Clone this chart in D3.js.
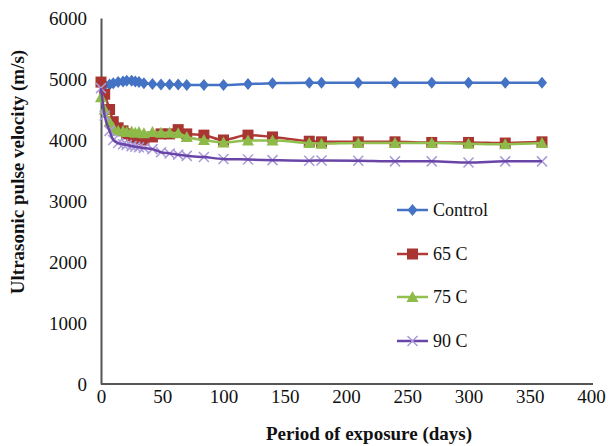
<!DOCTYPE html>
<html><head><meta charset="utf-8">
<script src="https://cdn.jsdelivr.net/npm/d3@7"></script>
<style>html,body{margin:0;padding:0;background:#fff;} svg text{font-family:"Liberation Serif","DejaVu Serif","Times New Roman",serif;}</style>
</head><body><svg id="c" width="608" height="446"></svg>
<script>
const days = [0,3,7,10,14,18,21,25,28,31,35,42,49,56,63,70,84,100,120,140,170,180,210,240,270,300,330,360];
const control = [4950,4900,4910,4930,4950,4960,4970,4970,4960,4950,4930,4920,4910,4910,4910,4900,4900,4900,4920,4930,4940,4940,4940,4940,4940,4940,4940,4940];
const c65 = [4950,4750,4500,4300,4200,4150,4100,4070,4040,4020,4000,4050,4100,4100,4170,4100,4080,4000,4080,4050,3980,3970,3970,3970,3960,3960,3950,3970];
const c75 = [4700,4500,4300,4200,4150,4150,4130,4140,4120,4130,4110,4130,4120,4120,4110,4050,4000,3960,3990,3990,3950,3940,3950,3950,3950,3940,3930,3950];
const c90 = [4850,4400,4150,4000,3950,3930,3920,3900,3890,3880,3870,3850,3800,3780,3760,3740,3720,3690,3680,3670,3660,3665,3660,3650,3650,3630,3650,3650];
const seriesNames = ["Control","65 C","75 C","90 C"];
const yTicks = [0,1000,2000,3000,4000,5000,6000];
const xTicks = [0,50,100,150,200,250,300,350,400];

const series = [
  {name:seriesNames[0], vals:control, line:"#4472C4", mark:"#4472C4", sym:"diamond"},
  {name:seriesNames[1], vals:c65, line:"#B03A36", mark:"#A83532", sym:"square"},
  {name:seriesNames[2], vals:c75, line:"#92C050", mark:"#8DBA48", sym:"triangle"},
  {name:seriesNames[3], vals:c90, line:"#6A45A8", mark:"#A99BDB", sym:"cross"}
];

const svg = d3.select("#c");
const x = d3.scaleLinear().domain([0,400]).range([101,591]);
const y = d3.scaleLinear().domain([0,6000]).range([384,18]);
const font = "\"Liberation Serif\",\"DejaVu Serif\",serif";

// axes
const yAxis = svg.append("g").attr("transform","translate(101,0)")
  .call(d3.axisLeft(y).tickValues(yTicks).tickSize(0).tickPadding(14).tickFormat(d3.format("d")));
yAxis.attr("font-family",null).attr("font-size",null);
yAxis.select(".domain").attr("stroke","#555").attr("stroke-width",2);
yAxis.selectAll("text").style("font-family",font).style("font-size","19px").attr("fill","#111");

const xAxis = svg.append("g").attr("transform","translate(0,384)")
  .call(d3.axisBottom(x).tickValues(xTicks).tickSize(0).tickPadding(6).tickFormat(d3.format("d")));
xAxis.attr("font-family",null).attr("font-size",null);
xAxis.select(".domain").attr("stroke","#555").attr("stroke-width",2).attr("d","M101,0H593");
xAxis.selectAll("text").style("font-family",font).style("font-size","19px").attr("fill","#111");

svg.append("text").attr("x",369).attr("y",440).attr("text-anchor","middle")
  .style("font-family",font).style("font-weight","bold").style("font-size","19px").attr("fill","#111")
  .text("Period of exposure (days)");
svg.append("text").attr("transform","translate(24,172) rotate(-90)").attr("text-anchor","middle")
  .style("font-family",font).style("font-weight","bold").style("font-size","19px").attr("fill","#111")
  .text("Ultrasonic pulse velocity (m/s)");

function drawMarker(g, sym, color, cx, cy){
  if(sym==="diamond"){
    g.append("path").attr("d",`M${cx},${cy-6}L${cx+5},${cy}L${cx},${cy+6}L${cx-5},${cy}Z`).attr("fill",color);
  } else if(sym==="square"){
    g.append("rect").attr("x",cx-5.5).attr("y",cy-5.5).attr("width",11).attr("height",11).attr("fill",color);
  } else if(sym==="triangle"){
    g.append("path").attr("d",`M${cx},${cy-6}L${cx+6},${cy+5}L${cx-6},${cy+5}Z`).attr("fill",color);
  } else {
    g.append("path").attr("d",`M${cx-5},${cy-5}L${cx+5},${cy+5}M${cx-5},${cy+5}L${cx+5},${cy-5}`)
      .attr("stroke",color).attr("stroke-width",1.5).attr("fill","none");
  }
}

const line = d3.line().curve(d3.curveMonotoneX);
series.forEach(s=>{
  const g = svg.append("g");
  const pts = days.map((d,i)=>[x(d), y(s.vals[i])]);
  if(s.sym==="cross"){
    pts.forEach(p=>drawMarker(g,s.sym,s.mark,p[0],p[1]));
    g.append("path").attr("d",line(pts)).attr("fill","none").attr("stroke",s.line).attr("stroke-width",2.5);
  } else {
    g.append("path").attr("d",line(pts)).attr("fill","none").attr("stroke",s.line).attr("stroke-width",2.5);
    pts.forEach(p=>drawMarker(g,s.sym,s.mark,p[0],p[1]));
  }
});

// legend
const legY = [210,254,297,341];
series.forEach((s,i)=>{
  const g = svg.append("g");
  g.append("line").attr("x1",397).attr("x2",428).attr("y1",legY[i]).attr("y2",legY[i]).attr("stroke",s.line).attr("stroke-width",2.5);
  drawMarker(g,s.sym,s.mark,412.5,legY[i]);
  g.append("text").attr("x",433).attr("y",legY[i]).attr("dy","0.35em")
    .style("font-family",font).style("font-size","18px").attr("fill","#111").text(s.name);
});
</script></body></html>
